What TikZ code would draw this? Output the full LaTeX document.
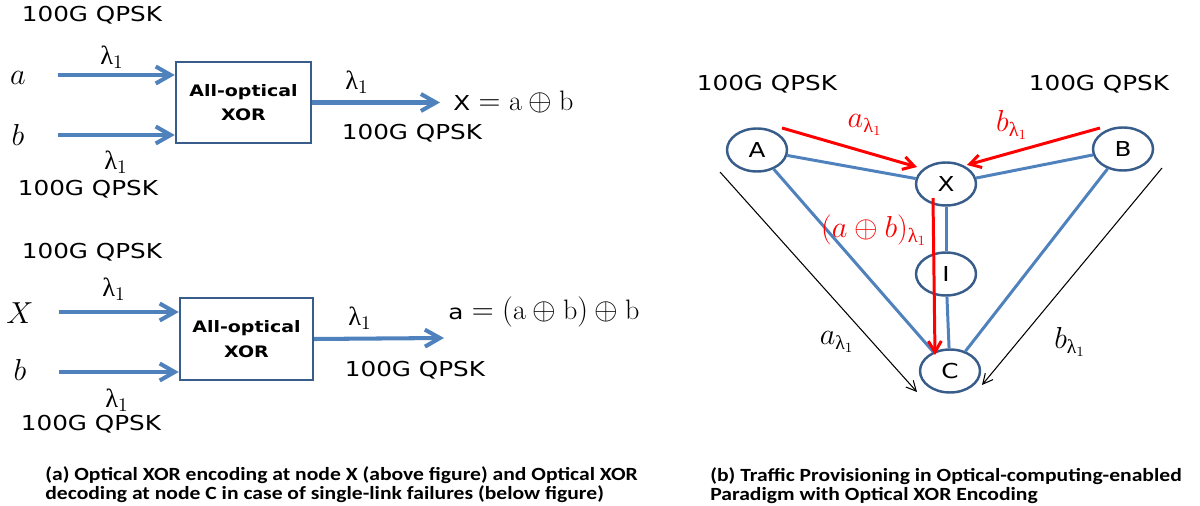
\documentclass[tikz,border=0pt]{standalone}
\usepackage{fontspec}
\usepackage{amsmath}
\usetikzlibrary{arrows.meta,shapes.geometric}
\newfontfamily\lbl[FakeStretch=1.2]{DejaVu Sans}
\newfontfamily\grk{Liberation Serif}
\newfontfamily\capfontw[FakeStretch=1.16]{Carlito Bold}
\definecolor{arrblue}{HTML}{4F81BD}
\definecolor{boxblue}{HTML}{385D8A}
\newcommand{\lmd}{\text{\grk λ}}
\newcommand{\xo}{\mathbin{\oplus}}
\begin{document}
\begin{tikzpicture}[x=0.02cm,y=-0.02cm,
  sig/.style={font=\lbl\fontsize{11.7}{14}\selectfont, inner sep=0pt},
  lam/.style={font=\grk\fontsize{15}{18}\selectfont, inner sep=0pt},
  var/.style={font=\fontsize{16}{19}\selectfont, inner sep=0pt},
  eqn/.style={font=\fontsize{16}{19}\selectfont, inner sep=0pt, anchor=west},
  xorbox/.style={draw=boxblue, line width=1.4pt, minimum width=2.7cm, minimum height=1.62cm, align=center, font=\lbl\bfseries\fontsize{9}{14}\selectfont},
  flow/.style={draw=arrblue, line width=2.3pt, -{Straight Barb[length=0.3cm,width=0.34cm]}},
  gnode/.style={ellipse, draw=boxblue, line width=1.4pt, minimum width=1.2cm, minimum height=0.86cm, inner sep=0pt, font=\lbl\fontsize{11.7}{14}\selectfont},
  glink/.style={draw=arrblue, line width=1.7pt},
  rflow/.style={draw=red, line width=1.7pt, -{Straight Barb[length=0.22cm,width=0.26cm]}},
  kflow/.style={draw=black, line width=0.6pt, -{Straight Barb[length=0.2cm,width=0.2cm]}},
  rlab/.style={font=\fontsize{16.5}{19}\selectfont, text=red, inner sep=0pt},
  captxt/.style={font=\capfontw\fontsize{10.6}{12}\selectfont, anchor=base west, inner sep=0pt}]
\useasboundingbox (0,0) rectangle (1200,506);

% ---------- panel (a) top ----------
\node[xorbox] (b1) at (243.5,102.5) {All-optical\\XOR};
\node[sig] (t1) at (92,15) {100G QPSK};
\node[lam] (l1) at (112,57) {λ$_1$};
\node[var] (va) at (18,78) {$a$};
\coordinate (ain) at (58,75);
\draw[flow] (ain) -- (ain -| b1.west);
\node[var] (vb) at (18,135) {$b$};
\coordinate (bin) at (58,135);
\draw[flow] (bin) -- (bin -| b1.west);
\node[lam] (l2) at (116,162) {λ$_1$};
\node[sig] (t2) at (88,189) {100G QPSK};
\coordinate (xout) at (440,102.5);
\draw[flow] (b1.east) -- (xout);
\node[lam] (l3) at (357,82) {λ$_1$};
\node[eqn] (eq1) at (453,102) {{\lbl\fontsize{11.7}{14}\selectfont X} $=\mathrm{a}\xo\mathrm{b}$};
\node[sig] (t3) at (412,133) {100G QPSK};

% ---------- panel (a) bottom ----------
\node[xorbox, minimum width=2.66cm, minimum height=1.64cm] (b2) at (246.5,339) {All-optical\\XOR};
\node[sig] (t4) at (92,252) {100G QPSK};
\node[lam] (l4) at (114,289) {λ$_1$};
\node[var] (vx) at (20,313) {$X$};
\coordinate (xin) at (59,312);
\draw[flow] (xin) -- (xin -| b2.west);
\node[var] (vb2) at (20,370) {$b$};
\coordinate (bin2) at (59,372);
\draw[flow] (bin2) -- (bin2 -| b2.west);
\node[lam] (l5) at (117,400) {λ$_1$};
\node[sig] (t5) at (91,424) {100G QPSK};
\coordinate (aout) at (444,338);
\draw[flow] (b2.east) -- (aout);
\node[lam] (l6) at (360,318) {λ$_1$};
\node[eqn] (eq2) at (448,312) {{\lbl\fontsize{11.7}{14}\selectfont a} $=(\mathrm{a}\xo\mathrm{b})\xo\mathrm{b}$};
\node[sig] (t6) at (415,370) {100G QPSK};

% ---------- panel (b) ----------
\node[sig] (t7) at (767,84) {100G QPSK};
\node[sig] (t8) at (1099,84) {100G QPSK};
\node[gnode] (A) at (757,150) {A};
\node[gnode] (B) at (1123,149) {B};
\node[gnode] (X) at (946,184) {X};
\node[gnode] (I) at (946,274) {I};
\node[gnode] (C) at (950,371) {C};
\draw[glink] (A) -- (X);
\draw[glink] (B) -- (X);
\draw[glink] (X) -- (I);
\draw[glink] (I) -- (C);
\draw[glink] (A) -- (C);
\draw[glink] (B) -- (C);

\coordinate (r1s) at (782,128); \coordinate (r1e) at (917,167);
\coordinate (r2s) at (1100,128); \coordinate (r2e) at (967,165);
\coordinate (r3s) at (933,198); \coordinate (r3e) at (935,355);
\draw[rflow] (r1s) -- (r1e);
\draw[rflow] (r2s) -- (r2e);
\draw[rflow] (r3s) -- (r3e);
\node[rlab] (ra) at (865,125) {$a_{\lmd_1}$};
\node[rlab] (rb) at (1012,125) {$b_{\lmd_1}$};
\node[rlab] (rab) at (874,230) {$(a\xo b)_{\lmd_1}$};

\coordinate (k1s) at (720,172); \coordinate (k1e) at (917,392);
\coordinate (k2s) at (1162,168); \coordinate (k2e) at (982,385);
\draw[kflow] (k1s) -- (k1e);
\draw[kflow] (k2s) -- (k2e);
\node[var] (ka) at (837,342) {$a_{\lmd_1}$};
\node[var] (kb) at (1070,342) {$b_{\lmd_1}$};

% ---------- captions ----------
\node[captxt] (c1) at (45,480) {(a) Optical XOR encoding at node X (above figure) and Optical XOR};
\node[captxt] (c2) at (45,499) {decoding at node C in case of single-link failures (below figure)};
\node[captxt] (c3) at (710,481) {(b) Traffic Provisioning in Optical-computing-enabled};
\node[captxt] (c4) at (710,500) {Paradigm with Optical XOR Encoding};
\end{tikzpicture}
\end{document}
